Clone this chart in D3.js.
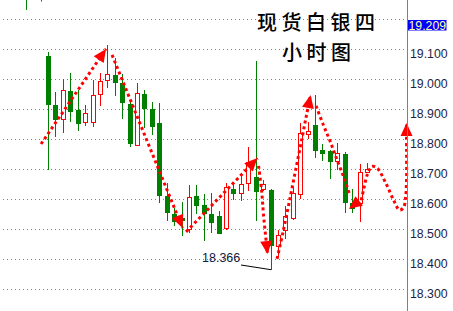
<!DOCTYPE html>
<html><head><meta charset="utf-8">
<script src="https://cdn.jsdelivr.net/npm/d3@7"></script>
<style>body{margin:0;background:#fff}svg{display:block}</style>
</head><body>
<svg id="c" width="453" height="311"></svg>
<script>
// ---- data ----
const titleLine1 = "现货白银四";
const titleLine2 = "小时图";
const priceTicks = [19.1, 19.0, 18.9, 18.8, 18.7, 18.6, 18.5, 18.4, 18.3];
const gridValues = [19.2, 19.1, 19.0, 18.9, 18.8, 18.7, 18.6, 18.5, 18.4, 18.3];
const lastPrice = 19.209;
const open  = [19.078,18.915,18.867,18.962,18.898,18.859,18.857,18.951,18.997,19.016,18.989,18.918,18.781,18.952,18.902,18.856,18.612,18.552,18.540,18.501,18.611,18.583,18.550,18.545,18.506,18.634,18.623,18.654,18.676,18.634,18.632,18.445,18.498,18.540,18.617,18.817,18.848,18.765,18.761,18.729,18.752,18.587,18.588,18.691];
const high  = [19.092,18.959,19.001,19.023,18.965,18.915,18.998,19.023,19.115,19.071,19.018,18.932,18.989,18.965,18.926,18.923,18.654,18.573,18.591,18.647,18.647,18.617,18.620,18.562,18.654,18.660,18.680,18.775,19.062,18.665,18.635,18.500,18.577,18.642,18.855,18.857,18.948,18.785,18.765,18.790,18.758,18.636,18.718,18.721];
const low   = [18.700,18.807,18.823,18.859,18.829,18.845,18.843,18.913,18.971,18.946,18.869,18.776,18.781,18.837,18.815,18.589,18.528,18.512,18.478,18.488,18.550,18.460,18.488,18.489,18.498,18.598,18.595,18.630,18.527,18.628,18.366,18.410,18.467,18.530,18.603,18.800,18.740,18.728,18.667,18.700,18.556,18.555,18.526,18.691];
const close = [18.918,18.867,18.965,18.896,18.854,18.887,18.948,18.995,19.018,18.993,18.926,18.787,18.954,18.904,18.846,18.615,18.559,18.529,18.530,18.608,18.583,18.555,18.524,18.489,18.640,18.623,18.652,18.725,18.630,18.651,18.448,18.482,18.545,18.620,18.822,18.828,18.766,18.756,18.727,18.754,18.592,18.571,18.693,18.701];
// hand-drawn projection (candle index, price)
const trendA = [[-0.937,18.785],[7.825,19.102]];
const trendB = [[8.633,19.082],[18.136,18.505]];
const trendC = [[18.608,18.492],[28.245,18.738]];
const trendD = [[28.380,18.712],[28.784,18.632],[29.054,18.548],[29.593,18.418]];
const trendE = [[30.873,18.402],[31.682,18.492],[32.626,18.605],[33.434,18.705],[34.243,18.805],[34.850,18.882],[35.389,18.948]];
const trendF = [[36.130,18.912],[37.074,18.851],[38.017,18.795],[38.961,18.732],[39.905,18.672],[40.713,18.612]];
const trendG = [[42.061,18.578],[42.533,18.632],[43.072,18.685],[43.678,18.710],[44.352,18.705],[45.565,18.653],[46.644,18.595],[47.385,18.565],[47.924,18.573],[48.194,18.605],[48.329,18.665],[48.329,18.765],[48.329,18.855]];
const arrowTips  = [[7.825,19.102],[18.136,18.505],[28.245,18.738],[29.593,18.418],[35.389,18.948],[40.578,18.568],[48.329,18.855]];
const arrowTails = [[-0.937,18.785],[8.633,19.082],[18.608,18.492],[29.054,18.548],[34.850,18.882],[41.926,18.595],[48.329,18.765]];

// ---- scales ----
const svg = d3.select("#c");
const x = d3.scaleLinear().domain([0, 43]).range([48, 367]);
const y = d3.scaleLinear().domain([18.3, 19.2]).range([289.5, 19.5]);
const fmt = d3.format(".3f");
const GREEN = "#008000", RED = "#ff0000";
const numFont = "Liberation Sans, Arial, sans-serif";

// grid
svg.append("g").selectAll("line").data(gridValues).join("line")
  .attr("x1", 3).attr("x2", 407)
  .attr("y1", d => Math.round(y(d) - 0.5) + 0.5).attr("y2", d => Math.round(y(d) - 0.5) + 0.5)
  .attr("stroke", "#808080").attr("stroke-width", 1).attr("stroke-dasharray", "1,3");

// top-left fragments of the panel above
svg.append("line").attr("x1",26.5).attr("x2",26.5).attr("y1",0).attr("y2",10).attr("stroke",GREEN);
svg.append("line").attr("x1",41.5).attr("x2",41.5).attr("y1",0).attr("y2",1.5).attr("stroke",GREEN);

// candles
const idx = d3.range(open.length);
const cg = svg.append("g");
idx.forEach(i => {
  const xc = Math.round(x(i));
  const up = close[i] >= open[i];
  const col = up ? RED : GREEN;
  const yt = Math.round(y(Math.max(open[i], close[i])));
  const yb = Math.round(y(Math.min(open[i], close[i])));
  const yh = Math.round(y(high[i]));
  const yl = Math.round(y(low[i]));
  if (up) {
    if (yh < yt) cg.append("line").attr("x1", xc + 0.5).attr("x2", xc + 0.5).attr("y1", yh).attr("y2", yt).attr("stroke", col);
    if (yl > yb) cg.append("line").attr("x1", xc + 0.5).attr("x2", xc + 0.5).attr("y1", yb).attr("y2", yl).attr("stroke", col);
    cg.append("rect").attr("x", xc - 1.5).attr("y", yt + 0.5).attr("width", 4).attr("height", Math.max(1, yb - yt))
      .attr("fill", "#fff").attr("stroke", col);
  } else {
    cg.append("line").attr("x1", xc + 0.5).attr("x2", xc + 0.5).attr("y1", yh).attr("y2", yl).attr("stroke", col);
    cg.append("rect").attr("x", xc - 2).attr("y", yt).attr("width", 5).attr("height", Math.max(1, yb - yt + 1)).attr("fill", col);
  }
});

// projection lines
const line = d3.line().x(d => x(d[0])).y(d => y(d[1])).curve(d3.curveCatmullRom.alpha(0.5));
const tg = svg.append("g");
[trendA, trendB, trendC, trendD, trendE, trendF, trendG].forEach(t => {
  tg.append("path").attr("d", line(t)).attr("fill", "none").attr("stroke", RED)
    .attr("stroke-width", 3).attr("stroke-dasharray", "3,3");
});
arrowTips.forEach((tp, k) => {
  const T = [x(tp[0]), y(tp[1])];
  const S = [x(arrowTails[k][0]), y(arrowTails[k][1])];
  const dx = T[0] - S[0], dy = T[1] - S[1];
  const len = Math.hypot(dx, dy);
  const ux = dx / len, uy = dy / len;
  const L = 13, W = 6;
  const bx = T[0] - L * ux, by = T[1] - L * uy;
  const pts = [T, [bx - W * uy, by + W * ux], [bx + W * uy, by - W * ux]];
  tg.append("polygon").attr("points", pts.map(p => p.join(",")).join(" ")).attr("fill", RED);
});

// low annotation
const lowIdx = d3.minIndex(low);
svg.append("line").attr("x1", 241).attr("y1", 265).attr("x2", x(lowIdx) + 0.5).attr("y2", y(low[lowIdx]))
  .attr("stroke", "#000").attr("stroke-width", 1);
svg.append("text").attr("x", 202).attr("y", 261.5).text(fmt(low[lowIdx]))
  .attr("font-family", numFont).attr("font-size", 12.5).attr("fill", "#0e1a3c");

// right axis
svg.append("line").attr("x1", 407.5).attr("x2", 407.5).attr("y1", 0).attr("y2", 311).attr("stroke", "#808080");
const axis = d3.axisRight(y).tickValues(priceTicks).tickSize(0).tickPadding(0).tickFormat(fmt);
const ag = svg.append("g").attr("transform", "translate(410,0)").call(axis);
ag.select(".domain").remove();
ag.selectAll("text").attr("font-family", numFont).attr("font-size", 12.3)
  .attr("fill", "#1c2344").attr("dy", null).attr("dominant-baseline", "auto")
  .attr("y", 7.6);
// last price box
svg.append("rect").attr("x", 408).attr("y", 20).attr("width", 38.5).attr("height", 10.5).attr("fill", "#0000ff");
svg.append("text").attr("x", 408.5).attr("y", 29.5).text(fmt(lastPrice))
  .attr("font-family", numFont).attr("font-size", 12.3).attr("fill", "#ffff99");

// title
const tf = "'Noto Sans CJK SC', sans-serif";
svg.append("text").attr("x", 257).attr("y", 30).text(titleLine1)
  .attr("font-family", tf).attr("font-size", 20).attr("font-weight", 500).attr("letter-spacing", 4.5).attr("fill", "#000");
svg.append("text").attr("x", 282).attr("y", 59.5).text(titleLine2)
  .attr("font-family", tf).attr("font-size", 20).attr("font-weight", 500).attr("letter-spacing", 4.5).attr("fill", "#000");
</script>
</body></html>
